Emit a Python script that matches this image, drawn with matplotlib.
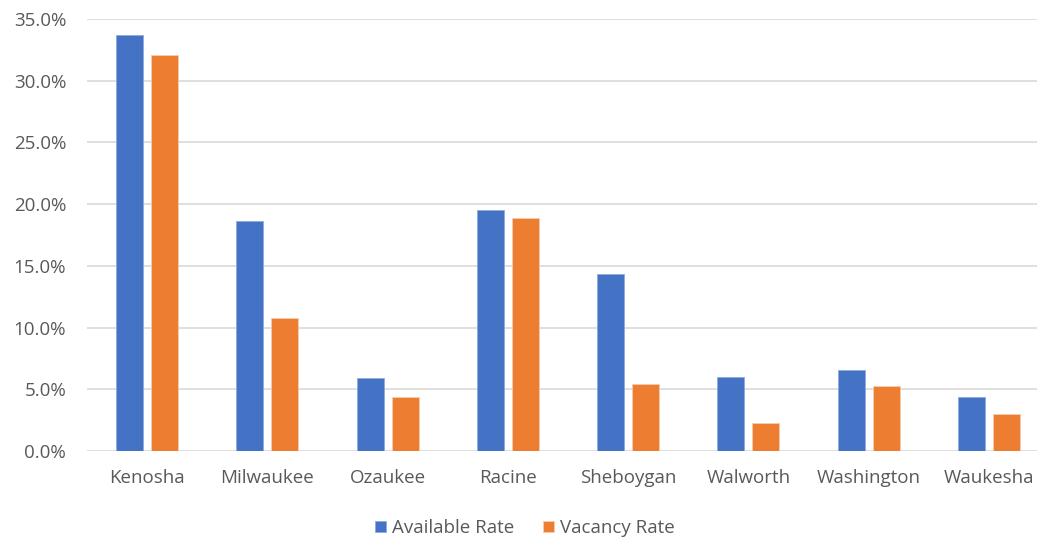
import matplotlib.pyplot as plt
import numpy as np
from matplotlib.ticker import FuncFormatter

counties = ["Kenosha", "Milwaukee", "Ozaukee", "Racine", "Sheboygan", "Walworth", "Washington", "Waukesha"]
available_rate = [33.7, 18.6, 5.9, 19.5, 14.3, 6.0, 6.6, 4.4]
vacancy_rate = [32.1, 10.8, 4.4, 18.9, 5.4, 2.3, 5.3, 3.0]

plt.rcParams['font.family'] = ['Open Sans', 'DejaVu Sans']

fig = plt.figure(figsize=(10.37, 5.42), dpi=100)
ax = fig.add_axes([87 / 1037, 91 / 542, 962 / 1037, 432 / 542])

x = np.arange(len(counties))
w = 0.225
ax.bar(x - 0.146, available_rate, w, color="#4472C4", edgecolor="#8FAADC", linewidth=0.6,
       label="Available Rate", zorder=3)
ax.bar(x + 0.146, vacancy_rate, w, color="#ED7D31", edgecolor="#F8CBAD", linewidth=0.6,
       label="Vacancy Rate", zorder=3)

ax.set_xlim(-0.5, len(counties) - 0.5)
ax.set_ylim(0, 35)
ax.set_yticks(np.arange(0, 36, 5))
ax.yaxis.set_major_formatter(FuncFormatter(lambda v, p: f"{v:.1f}%"))
ax.set_xticks(x)
ax.set_xticklabels(counties)
ax.grid(axis="y", color="#D9D9D9", linewidth=1.2, zorder=0)
for s in ax.spines.values():
    s.set_visible(False)
ax.tick_params(length=0, labelsize=13.5, colors="#595959")
ax.tick_params(axis="y", pad=15)
ax.tick_params(axis="x", pad=13)

fig.legend(loc="center", bbox_to_anchor=(525 / 1037, 1 - 528 / 542), ncol=2, frameon=False,
           fontsize=13.5, labelcolor="#595959", handlelength=0.57, handleheight=0.57,
           handletextpad=0.31, columnspacing=1.55)

plt.savefig("out.png")
plt.close()
